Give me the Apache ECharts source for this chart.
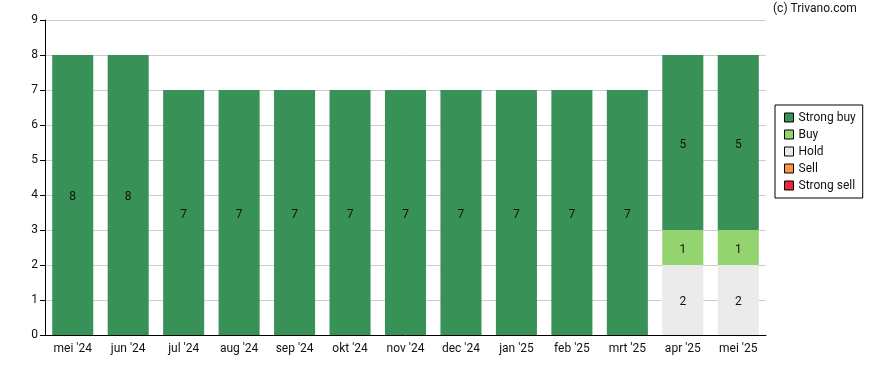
<!DOCTYPE html>
<html><head><meta charset="utf-8">
<script src="https://cdn.jsdelivr.net/npm/echarts@6/dist/echarts.min.js"></script>
<style>html,body{margin:0;padding:0;background:#fff}#c{width:888px;height:370px}</style>
</head><body><div id="c"></div>
<script>
var categories = ["mei '24","jun '24","jul '24","aug '24","sep '24","okt '24","nov '24","dec '24","jan '25","feb '25","mrt '25","apr '25","mei '25"];
var strongBuy = [8,8,7,7,7,7,7,7,7,7,7,5,5];
var buy = [0,0,0,0,0,0,0,0,0,0,0,1,1];
var hold = [0,0,0,0,0,0,0,0,0,0,0,2,2];
var sell = [0,0,0,0,0,0,0,0,0,0,0,0,0];
var strongSell = [0,0,0,0,0,0,0,0,0,0,0,0,0];
var yTicks = [0,1,2,3,4,5,6,7,8,9];

var font = 'Roboto, "Noto Sans", sans-serif';
function mk(name, data, color){
  return {name:name, type:'bar', stack:'a', data:data, barCategoryGap:'26%',
    itemStyle:{color:color},
    label:{show:true, position:'inside', color:'#111', fontSize:12, fontFamily:font, offset:[0,2],
      formatter:function(p){return p.value>0?String(p.value):'';}},
    emphasis:{disabled:true}};
}
var chart = echarts.init(document.getElementById('c'));
chart.setOption({
  animation:false,
  graphic:[{type:'text', left:773, top:3, style:{text:'(c) Trivano.com', fontSize:12, fontFamily:font, fill:'#111'}}],
  grid:{left:45, right:122, top:20, bottom:35},
  legend:{orient:'vertical', left:775, top:105, borderColor:'#000', borderWidth:1,
    padding:[6,7,6,9], itemWidth:9, itemHeight:9, itemGap:4,
    icon:'rect',
    textStyle:{fontSize:12, fontFamily:font, color:'#111', lineHeight:13},
    itemStyle:{borderColor:'#000', borderWidth:1},
    data:['Strong buy','Buy','Hold','Sell','Strong sell']},
  xAxis:{type:'category', data:categories,
    axisLine:{lineStyle:{color:'#000'}},
    axisTick:{alignWithLabel:true, lineStyle:{color:'#000'}, length:5},
    axisLabel:{color:'#111', fontSize:12, fontFamily:font, margin:8}},
  yAxis:{type:'value', min:yTicks[0], max:yTicks[yTicks.length-1], interval:1,
    axisLine:{show:true, lineStyle:{color:'#000'}},
    axisTick:{show:true, lineStyle:{color:'#000'}, length:5},
    axisLabel:{color:'#111', fontSize:12, fontFamily:font, margin:7},
    splitLine:{lineStyle:{color:'#cccccc'}}},
  series:[
    mk('Hold', hold, '#ebebeb'),
    mk('Buy', buy, '#93d46f'),
    mk('Strong buy', strongBuy, '#389157'),
    mk('Sell', sell, '#f79646'),
    mk('Strong sell', strongSell, '#e8283c')
  ]
});
</script></body></html>
